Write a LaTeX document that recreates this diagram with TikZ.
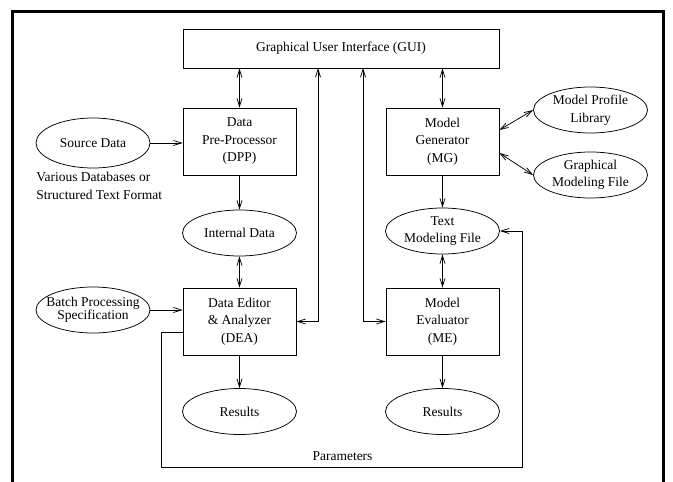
\documentclass[tikz,border=0pt]{standalone}
\usepackage{fontspec}
\setmainfont{Liberation Serif}
\usetikzlibrary{arrows.meta,shapes.geometric}
\begin{document}
\begin{tikzpicture}[x=1pt,y=-1pt,
  font=\fontsize{13.5}{17.5}\selectfont,
  line width=0.75pt,
  box/.style={draw, rectangle, minimum width=113pt, minimum height=67pt, inner sep=0pt, align=center},
  ell/.style={draw, ellipse, minimum width=114pt, minimum height=46pt, inner sep=0pt},
  ltext/.style={align=center},
  tip/.style={-{Straight Barb[length=8pt,width=5pt]}},
  dbl/.style={{Straight Barb[length=8pt,width=5pt]}-{Straight Barb[length=8pt,width=5pt]}},
]
\useasboundingbox (0,0) rectangle (673,482);
\draw[line width=3pt] (12.5,490) -- (12.5,11.5) -- (663,11.5) -- (663,490);

% boxes
\node[box, minimum width=316pt, minimum height=39pt] (gui) at (341,48.5) {Graphical User Interface (GUI)};
\node[box] (dpp) at (239.5,141.5) {Data\\Pre-Processor\\(DPP)};
\node[box] (mg) at (442.5,141.5) {Model\\Generator\\(MG)};
\node[box] (dea) at (239.5,321.5) {Data Editor\\\& Analyzer\\(DEA)};
\node[box] (me) at (442.5,321.5) {Model\\Evaluator\\(ME)};

% ellipses
\node[ell, minimum height=50pt, label={[ltext]center:Source Data}] (src) at (93,143) {};
\node[ell, label={[ltext]center:Model Profile\\Library}] (mpl) at (590.5,110) {};
\node[ell, label={[ltext]center:Graphical\\Modeling File}] (gmf) at (590.5,175) {};
\node[ell, label={[ltext]center:Internal Data}] (intd) at (239.5,233) {};
\node[ell, label={[ltext]center:Text\\Modeling File}] (tmf) at (442.5,231) {};
\node[ell, label={[ltext, font=\fontsize{13.5}{13}\selectfont]center:Batch Processing\\Specification}] (batch) at (93,310) {};
\node[ell, label={[ltext]center:Results}] (res1) at (239.5,411.5) {};
\node[ell, label={[ltext]center:Results}] (res2) at (442.5,411.5) {};

% free texts
\node[align=left, anchor=west, inner sep=0pt] (vdb) at (36,186) {Various Databases or\\Structured Text Format};
\node[inner sep=0pt] (par) at (342.5,456) {Parameters};

% coordinates
\coordinate (g1) at (318,68);
\coordinate (g2) at (363,68);
\coordinate (pl) at (161,467);
\coordinate (pr) at (522,467);

% connectors
\draw[tip] (src.east) -- (src.east -| dpp.west);
\draw[tip] (batch.east) -- (batch.east -| dea.west);
\draw[dbl] (gui.south -| dpp.north) -- (dpp.north);
\draw[dbl] (gui.south -| mg.north) -- (mg.north);
\draw[tip] (dpp) -- (intd);
\draw[dbl] (intd) -- (dea);
\draw[tip] (mg) -- (tmf);
\draw[dbl] (tmf) -- (me);
\draw[tip] (dea) -- (res1);
\draw[tip] (me) -- (res2);
\draw[dbl] ([yshift=11.5pt]mg.east) -- (mpl.west);
\draw[dbl] ([yshift=-11.5pt]mg.east) -- (gmf.west);
\draw[dbl] (g1) |- (dea.east);
\draw[dbl] (g2) |- (me.west);
\draw[tip] ([yshift=-10.5pt]dea.west) -| (pl) -- (pr) |- (tmf.east);
\end{tikzpicture}
\end{document}
